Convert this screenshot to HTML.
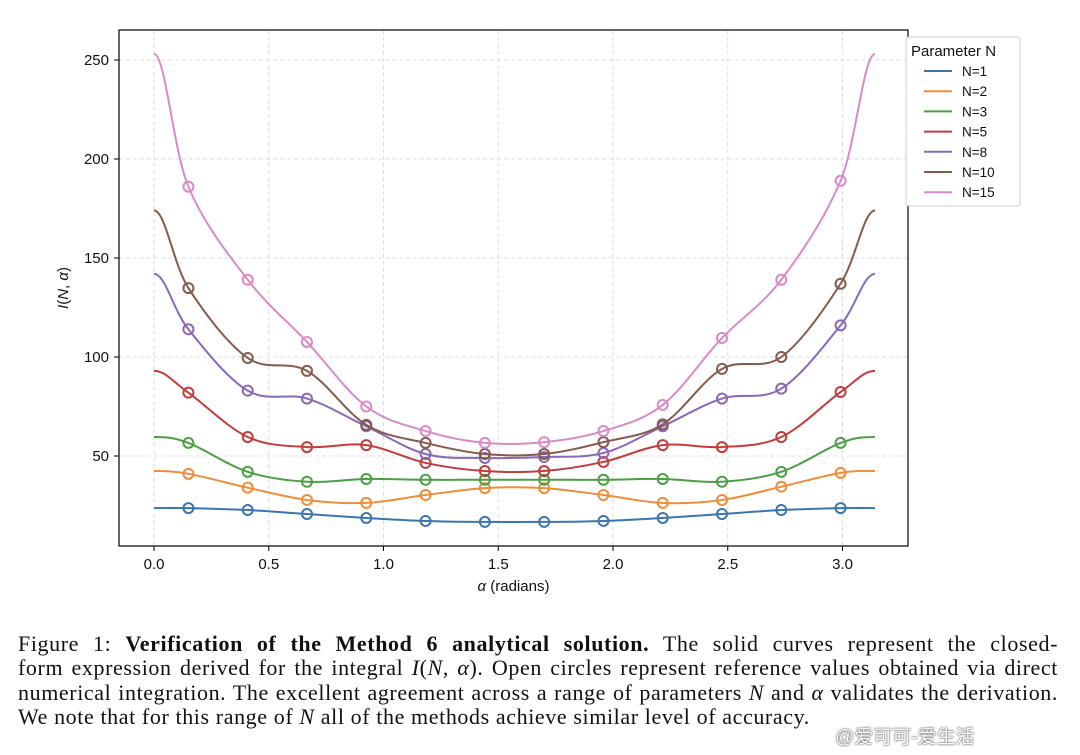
<!DOCTYPE html>
<html><head><meta charset="utf-8">
<style>
body{margin:0;background:#fff;width:1080px;height:755px;overflow:hidden;font-family:"Liberation Sans",sans-serif}
#cap{position:absolute;left:18px;top:632px;width:1040px;font-family:"Liberation Serif",serif;font-size:22px;letter-spacing:0.6px;line-height:24.4px;color:#111}
#cap div{text-align:justify;text-align-last:justify;white-space:nowrap}
#cap div.last{text-align-last:left}
#wm{position:absolute;left:835px;top:722px;font-family:"Liberation Sans","Noto Sans CJK SC",sans-serif;font-size:19px;color:#fff;text-shadow:0 0 2px #555,0 0 1px #333}
</style></head><body>
<svg id="chart" width="1080" height="630" style="position:absolute;left:0;top:0" xmlns="http://www.w3.org/2000/svg"></svg>
<div id="cap">
<div>Figure 1: <b>Verification of the Method 6 analytical solution.</b> The solid curves represent the closed-</div>
<div>form expression derived for the integral <i>I</i>(<i>N</i>, <i>α</i>). Open circles represent reference values obtained via direct</div>
<div>numerical integration. The excellent agreement across a range of parameters <i>N</i> and <i>α</i> validates the derivation.</div>
<div class="last">We note that for this range of <i>N</i> all of the methods achieve similar level of accuracy.</div>
</div>
<div id="wm">@爱可可-爱生活</div>
<script>
const labels=["N=1","N=2","N=3","N=5","N=8","N=10","N=15"];
const colors=["#3b75af","#ef8d3a","#4a9e44","#c23c3c","#8a68b8","#865a4e","#d98ac6"];
const endVals=[23.7,42.4,59.6,93,142,174,253];
const s1=[23.7,22.7,20.7,18.7,17.2,16.7,16.7,17.2,18.7,20.7,22.7,23.7];
const s2=[41,34,27.8,26.3,30.3,33.8,33.8,30.3,26.3,27.8,34.5,41.5];
const s3=[56.6,42,37,38.4,38,38,38,38,38.4,37,42,56.6];
const s5=[82,59.6,54.5,55.5,46.5,42.4,42.4,47,55.5,54.5,59.6,82.3];
const s8=[114,83,79,65,51,49,49.5,51.5,65,79,84,116];
const s10=[134.8,99.5,93,65.7,56.6,51,51,57,66,94,100,137];
const s15=[186,139,107.6,75,62.6,56.6,57,62.6,75.8,109.6,139,189];
const series=[s1,s2,s3,s5,s8,s10,s15];
const xTicks=[0,0.5,1,1.5,2,2.5,3];
const yTicks=[50,100,150,200,250];
const NS="http://www.w3.org/2000/svg";
const svg=document.getElementById('chart');
const L=119,R=908,T=30,B=546;
const xs=a=>154+a*229.5;
const ys=v=>555-v*1.98;
function mk(t,at){const e=document.createElementNS(NS,t);for(const k in at)e.setAttribute(k,at[k]);svg.appendChild(e);return e;}
const markerA=[];for(let i=0;i<12;i++)markerA.push(0.15+i*(Math.PI-0.3)/11);
xTicks.forEach(t=>{const g=mk('line',{x1:xs(t),x2:xs(t),y1:T,y2:B,stroke:'#ddd','stroke-dasharray':'4,3'});

const tk=mk('line',{x1:xs(t),x2:xs(t),y1:B,y2:B+5,stroke:'#000'});
const tx=mk('text',{x:xs(t),y:B+23,'font-size':15,'text-anchor':'middle',fill:'#111'});tx.textContent=t.toFixed(1);
});
yTicks.forEach(t=>{const g=mk('line',{x1:L,x2:R,y1:ys(t),y2:ys(t),stroke:'#ddd','stroke-dasharray':'4,3'});

const tk=mk('line',{x1:L-5,x2:L,y1:ys(t),y2:ys(t),stroke:'#000'});
const tx=mk('text',{x:L-10,y:ys(t)+5,'font-size':15,'text-anchor':'end',fill:'#111'});tx.textContent=t;
});
series.forEach((s,i)=>{
 const pts=[[0,endVals[i]]];markerA.forEach((a,j)=>pts.push([a,s[j]]));pts.push([Math.PI,endVals[i]]);
 const P=pts.map(p=>[xs(p[0]),ys(p[1])]);
 const ext=[[2*P[0][0]-P[1][0],P[1][1]],...P,[2*P[P.length-1][0]-P[P.length-2][0],P[P.length-2][1]]];
 let d='M'+P[0][0]+','+P[0][1];
 for(let k=1;k<ext.length-2;k++){const p0=ext[k-1],p1=ext[k],p2=ext[k+1],p3=ext[k+2];
  d+=` C${p1[0]+(p2[0]-p0[0])/6},${p1[1]+(p2[1]-p0[1])/6} ${p2[0]-(p3[0]-p1[0])/6},${p2[1]-(p3[1]-p1[1])/6} ${p2[0]},${p2[1]}`;}
 const pa=mk('path',{d:d,fill:'none',stroke:colors[i],'stroke-width':2});
 
 markerA.forEach((a,j)=>{const c=mk('circle',{cx:xs(a),cy:ys(s[j]),r:5,fill:'none',stroke:colors[i],'stroke-width':2});
  });
});
const fr=mk('rect',{x:L,y:T,width:R-L,height:B-T,fill:'none',stroke:'#000','stroke-width':1.2});

const xl=mk('text',{x:(L+R)/2,y:591,'font-size':15,'text-anchor':'middle',fill:'#111'});xl.innerHTML='<tspan font-style="italic">α</tspan> (radians)';

const yl=mk('text',{x:0,y:0,'font-size':15,'text-anchor':'middle',fill:'#111',transform:'translate(68,288) rotate(-90)'});yl.innerHTML='<tspan font-style="italic">I</tspan>(<tspan font-style="italic">N</tspan>, <tspan font-style="italic">α</tspan>)';

const lb=mk('rect',{x:906,y:37,width:114,height:169,rx:3,fill:'#fff',stroke:'#ccc'});

const lt=mk('text',{x:911,y:56,'font-size':15,fill:'#111'});lt.textContent='Parameter N';

labels.forEach((l,i)=>{const y=71+i*20.2;
 const ln=mk('line',{x1:924,x2:952,y1:y,y2:y,stroke:colors[i],'stroke-width':2});
 const t=mk('text',{x:962,y:y+5,'font-size':13.5,fill:'#111'});t.textContent=l;});
</script>
</body></html>
